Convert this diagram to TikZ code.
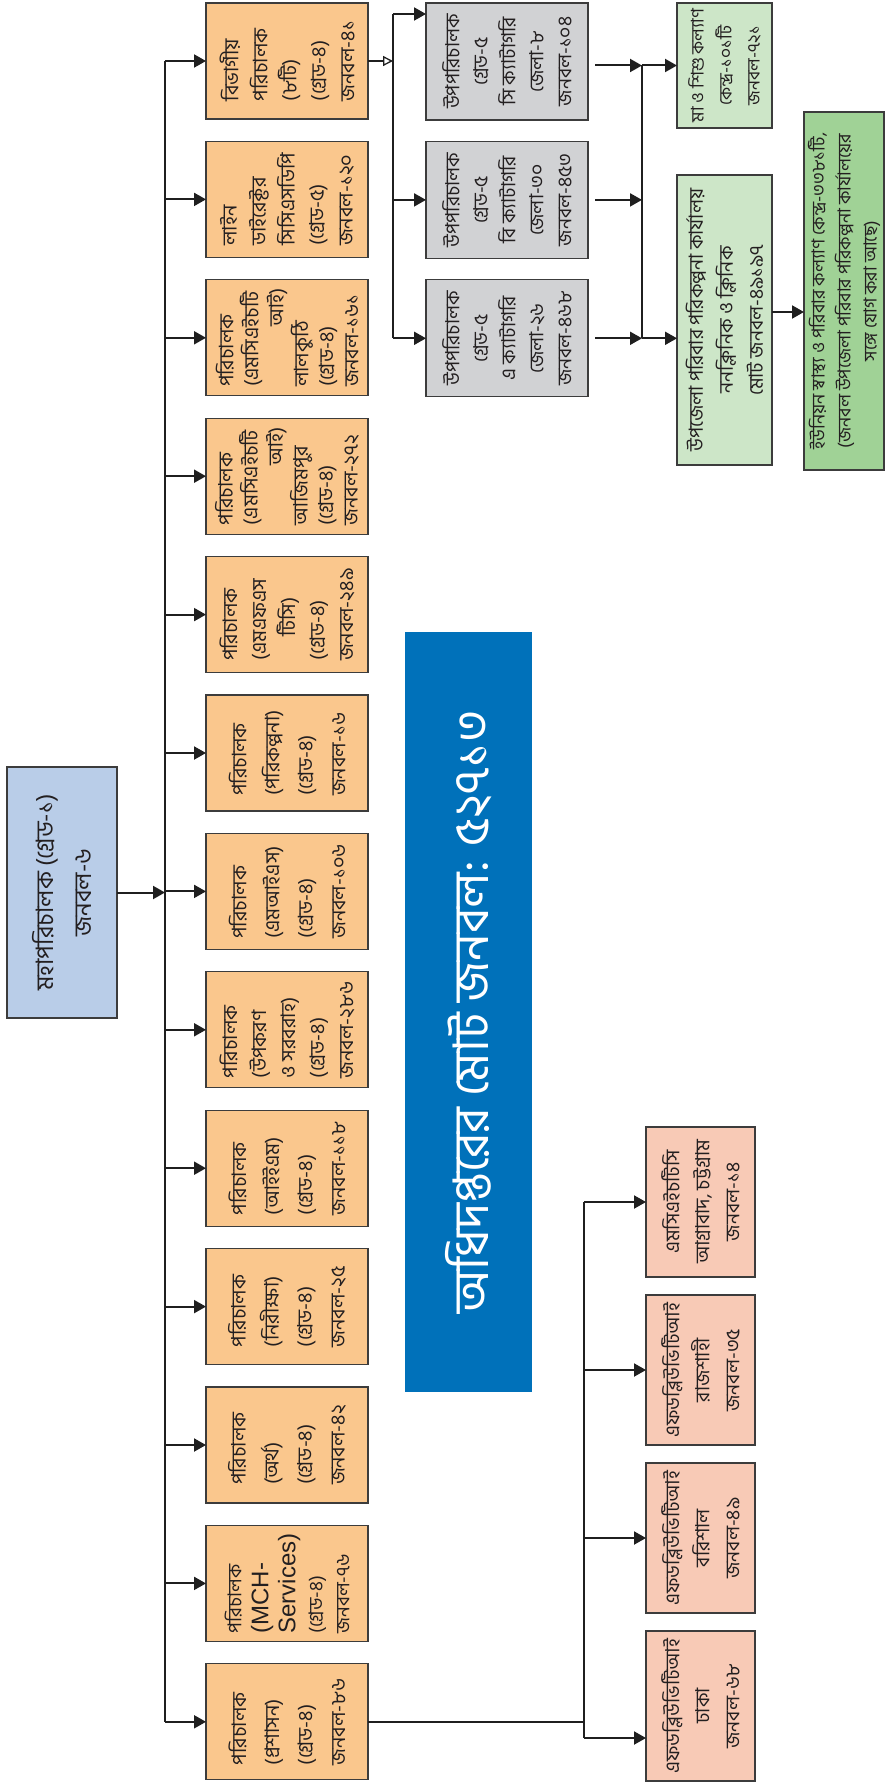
\documentclass[tikz,border=0pt]{standalone}
\usepackage{fontspec}
\newfontfamily\bn[Script=Bengali]{Hind Siliguri}
\newfontfamily\lat{Liberation Sans}
\usetikzlibrary{arrows.meta}
\definecolor{orangec}{HTML}{FAC78D}
\definecolor{greyc}{HTML}{D1D2D4}
\definecolor{greenc}{HTML}{CDE6C8}
\definecolor{dgreenc}{HTML}{A0D296}
\definecolor{pinkc}{HTML}{F8CAB6}
\definecolor{bluec}{HTML}{0071BA}
\definecolor{mainc}{HTML}{B9CDE8}
\definecolor{bordc}{HTML}{3C3C3C}
\definecolor{txtc}{HTML}{231F20}
\newcommand\orbox[4]{%
  \pgfmathsetmacro\oy{3+138.4*(#2-1)}%
  \node[box, fill=orangec, minimum width=162pt, minimum height=116pt] (#1) at (206,\oy) {};
  \node[txt, align=left, font=\bn\fontsize{20}{#3}\selectfont] (#1t) at (#1.center) {#4};
  \draw[arr] (bus|-#1.west) -- (#1.west);
}
\begin{document}
\begin{tikzpicture}[x=1pt,y=-1pt,
  box/.style={draw=bordc, line width=1.2pt, inner sep=0pt, outer sep=0pt, anchor=north west},
  txt/.style={rotate=90, inner sep=0pt, text=txtc},
  conn/.style={line width=2pt, draw=black!88},
  arr/.style={conn, -{Triangle[length=12pt,width=13pt]}},
  oarr/.style={conn, -{Triangle[open, fill=white, length=10pt, width=10pt, line width=1.3pt]}}]
\useasboundingbox (0,0) rectangle (885,1787);
\fill[white] (0,0) rectangle (885,1787);
\coordinate (bus) at (165,0);
\coordinate (gbus) at (393,0);
\coordinate (rbus) at (642,0);
\coordinate (pbus) at (584,0);

% main
\node[box, fill=mainc, minimum width=110pt, minimum height=251pt] (dg) at (7,767) {};
\node[txt, align=center, font=\bn\fontsize{24}{38}\selectfont] (dgt) at (dg.center) {মহাপরিচালক (গ্রেড-১)\\জনবল-৬};

% orange column
\orbox{o1}{1}{29}{বিভাগীয়\\পরিচালক\\(৮টি)\\(গ্রেড-৪)\\জনবল-৪১}
\orbox{o2}{2}{29}{লাইন\\ডাইরেক্টর\\সিসিএসডিপি\\(গ্রেড-৫)\\জনবল-১২০}
\orbox{o3}{3}{25}{পরিচালক\\(এমসিএইচটি\\\hspace*{3em}আই)\\লালকুঠি\\(গ্রেড-৪)\\জনবল-১৬১}
\orbox{o4}{4}{25}{পরিচালক\\(এমসিএইচটি\\\hspace*{3em}আই)\\আজিমপুর\\(গ্রেড-৪)\\জনবল-২৭২}
\orbox{o5}{5}{29}{পরিচালক\\(এমএফএস\\\hspace*{1.2em}টিসি)\\(গ্রেড-৪)\\জনবল-২৪৯}
\orbox{o6}{6}{33}{পরিচালক\\(পরিকল্পনা)\\(গ্রেড-৪)\\জনবল-১৬}
\orbox{o7}{7}{33}{পরিচালক\\(এমআইএস)\\(গ্রেড-৪)\\জনবল-১০৬}
\orbox{o8}{8}{29}{পরিচালক\\(উপকরণ\\ও সরবরাহ)\\(গ্রেড-৪)\\জনবল-২৮৬}
\orbox{o9}{9}{33}{পরিচালক\\(আইইএম)\\(গ্রেড-৪)\\জনবল-১১৮}
\orbox{o10}{10}{33}{পরিচালক\\(নিরীক্ষা)\\(গ্রেড-৪)\\জনবল-২৫}
\orbox{o11}{11}{33}{পরিচালক\\(অর্থ)\\(গ্রেড-৪)\\জনবল-৪২}
\orbox{o12}{12}{27}{{\fontsize{19}{27}\selectfont পরিচালক}\\{\lat\fontsize{24}{28}\selectfont (MCH-}\\{\lat\fontsize{24}{28}\selectfont Services)}\\{\fontsize{19}{27}\selectfont (গ্রেড-৪)}\\{\fontsize{19}{27}\selectfont জনবল-৭৬}}
\orbox{o13}{13}{33}{পরিচালক\\(প্রশাসন)\\(গ্রেড-৪)\\জনবল-৮৬}

\draw[arr] (dg.east) -- (bus|-dg.east);
\draw[conn] (bus|-o1.west) -- (bus|-o13.west);

% grey column
\node[box, fill=greyc, minimum width=162pt, minimum height=117pt] (g1) at (426,3) {};
\node[box, fill=greyc, minimum width=162pt, minimum height=117pt] (g2) at (426,141.4) {};
\node[box, fill=greyc, minimum width=162pt, minimum height=117pt] (g3) at (426,279.8) {};
\node[txt, align=center, font=\bn\fontsize{19.5}{28}\selectfont] (g1t) at (g1.center) {উপপরিচালক\\গ্রেড-৫\\সি ক্যাটাগরি\\জেলা-৮\\জনবল-১০৪};
\node[txt, align=center, font=\bn\fontsize{19.5}{28}\selectfont] (g2t) at (g2.center) {উপপরিচালক\\গ্রেড-৫\\বি ক্যাটাগরি\\জেলা-৩০\\জনবল-৪৫৩};
\node[txt, align=center, font=\bn\fontsize{19.5}{28}\selectfont] (g3t) at (g3.center) {উপপরিচালক\\গ্রেড-৫\\এ ক্যাটাগরি\\জেলা-২৬\\জনবল-৪৬৮};
\coordinate (g1in) at (426,14);
\draw[oarr] (o1.east) -- (gbus|-o1.east);
\draw[conn] (gbus|-g1in) -- (gbus|-g3.west);
\draw[arr] (gbus|-g1in) -- (g1in);
\draw[arr] (gbus|-g2.west) -- (g2.west);
\draw[arr] (gbus|-g3.west) -- (g3.west);

% green column
\node[box, fill=greenc, minimum width=95pt, minimum height=125pt] (gr1) at (677,3) {};
\node[box, fill=greenc, minimum width=95pt, minimum height=290pt] (gr2) at (677,175) {};
\node[box, fill=dgreenc, minimum width=80pt, minimum height=358pt] (gr3) at (804,112) {};
\node[txt, align=center, font=\bn\fontsize{17.5}{28}\selectfont] (gr1t) at (gr1.center) {মা ও শিশু কল্যাণ\\কেন্দ্র-১০১টি\\জনবল-৭২১};
\node[txt, align=center, font=\bn\fontsize{19.5}{30}\selectfont] (gr2t) at (gr2.center) {উপজেলা পরিবার পরিকল্পনা কার্যালয়\\ননক্লিনিক ও ক্লিনিক\\মোট জনবল-৪৯১৯৭};
\node[txt, align=center, font=\bn\fontsize{18}{26}\selectfont] (gr3t) at (gr3.center) {ইউনিয়ন স্বাস্থ্য ও পরিবার কল্যাণ কেন্দ্র-৩৩৮১টি,\\(জনবল উপজেলা পরিবার পরিকল্পনা কার্যালয়ের\\সঙ্গে যোগ করা আছে)};
\draw[arr] ([xshift=7pt]g1.east|-gr1.west) -- (rbus|-gr1.west);
\draw[arr] ([xshift=7pt]g2.east) -- (rbus|-g2.east);
\draw[arr] ([xshift=7pt]g3.east) -- (rbus|-g3.east);
\draw[conn] (rbus|-gr1.west) -- (rbus|-g3.east);
\draw[arr] (rbus|-gr1.west) -- (gr1.west);
\draw[arr] (rbus|-g3.east) -- (gr2.west|-g3.east);
\coordinate (lvl) at (0,312);
\draw[arr] (gr2.east|-lvl) -- (gr3.west|-lvl);

% blue total
\node[anchor=north west, fill=bluec, inner sep=0pt, minimum width=127pt, minimum height=760pt] (tot) at (405,632) {};
\node[rotate=90, text=white, font=\bn\fontsize{49}{56}\selectfont] (tott) at (tot.center) {অধিদপ্তরের মোট জনবল: ৫২৭১৩};

% pink column
\node[box, fill=pinkc, minimum width=109pt, minimum height=150pt] (p1) at (646,1127) {};
\node[box, fill=pinkc, minimum width=109pt, minimum height=150pt] (p2) at (646,1295) {};
\node[box, fill=pinkc, minimum width=109pt, minimum height=150pt] (p3) at (646,1463) {};
\node[box, fill=pinkc, minimum width=109pt, minimum height=150pt] (p4) at (646,1631) {};
\node[txt, align=center, font=\bn\fontsize{19.5}{30}\selectfont] (p1t) at (p1.center) {এমসিএইচটিসি\\আগ্রাবাদ, চট্টগ্রাম\\জনবল-১৪};
\node[txt, align=center, font=\bn\fontsize{19.5}{30}\selectfont] (p2t) at (p2.center) {এফডব্লিউভিটিআই\\রাজশাহী\\জনবল-৩৫};
\node[txt, align=center, font=\bn\fontsize{19.5}{30}\selectfont] (p3t) at (p3.center) {এফডব্লিউভিটিআই\\বরিশাল\\জনবল-৪৯};
\node[txt, align=center, font=\bn\fontsize{19.5}{30}\selectfont] (p4t) at (p4.center) {এফডব্লিউভিটিআই\\ঢাকা\\জনবল-৬৮};
\coordinate (p4in) at (646,1738);
\draw[conn] (o13.east) -- (pbus|-o13.east);
\draw[conn] (pbus|-p1.west) -- (pbus|-p4in);
\draw[arr] (pbus|-p1.west) -- (p1.west);
\draw[arr] (pbus|-p2.west) -- (p2.west);
\draw[arr] (pbus|-p3.west) -- (p3.west);
\draw[arr] (pbus|-p4in) -- (p4in);
\end{tikzpicture}
\end{document}
